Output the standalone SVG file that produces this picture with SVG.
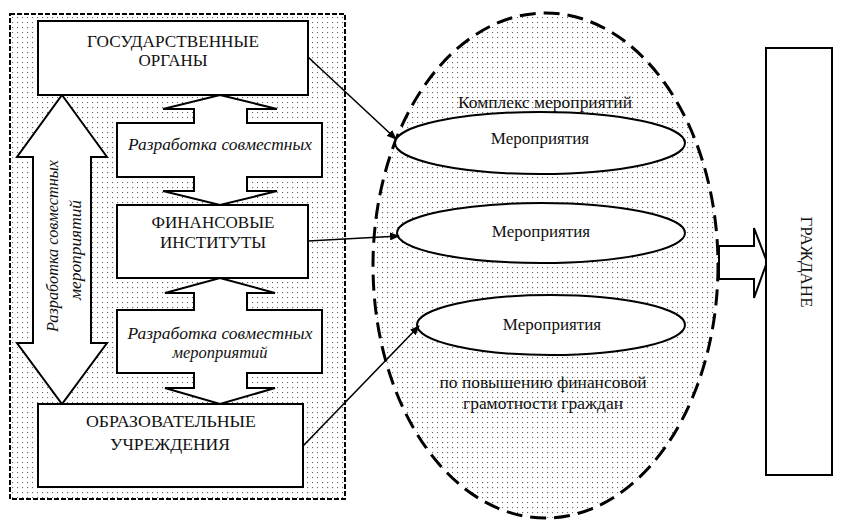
<svg xmlns="http://www.w3.org/2000/svg" width="843" height="525" viewBox="0 0 843 525">
<style>
.box{fill:#fff;stroke:#000;stroke-width:2}
.t{font-size:17px;fill:#111;text-anchor:middle}
.i{font-style:italic}
.con{stroke:#000;stroke-width:1.6;fill:none;marker-end:url(#ah)}
</style>
<defs>
<pattern id="dots" width="5" height="5" patternUnits="userSpaceOnUse">
<rect x="2" y="2" width="1.1" height="1.1" fill="#666"/>
</pattern>
<marker id="ah" viewBox="0 0 10 8" refX="9" refY="4" markerWidth="10" markerHeight="8" markerUnits="userSpaceOnUse" orient="auto">
<path d="M0,0 L10,4 L0,8 Z" fill="#000"/>
</marker>
</defs>
<rect width="843" height="525" fill="#fff"/>

<g id="left-container">
<rect x="10" y="14" width="335" height="485" fill="url(#dots)" stroke="#000" stroke-width="2" stroke-dasharray="5,2"/>
</g>

<g id="left-arrow">
<polygon class="box" points="62,95 107,157 91,157 91,343 107,343 62,404 17,343 33,343 33,157 17,157"/>
<text class="t i" font-family="Liberation Serif" transform="translate(58,246) rotate(-90)" textLength="172" lengthAdjust="spacingAndGlyphs">Разработка совместных</text>
<text class="t i" font-family="Liberation Serif" transform="translate(81,250) rotate(-90)" textLength="100" lengthAdjust="spacingAndGlyphs">мероприятий</text>
</g>

<g id="dev-top">
<polygon class="box" points="220,95 277,109 247,109 247,123 322,123 322,177 247,177 247,191 277,191 220,205 163,191 194,191 194,177 117,177 117,123 194,123 194,109 163,109"/>
<text class="t i" font-family="Liberation Serif" x="220" y="150" textLength="184" lengthAdjust="spacingAndGlyphs">Разработка совместных</text>
</g>

<g id="dev-bottom">
<polygon class="box" points="220,278 275,293 247,293 247,310 322,310 322,373 247,373 247,388 275,388 220,404 165,388 194,388 194,373 117,373 117,310 194,310 194,293 165,293"/>
<text class="t i" font-family="Liberation Serif" x="220" y="339" textLength="185" lengthAdjust="spacingAndGlyphs">Разработка совместных</text>
<text class="t i" font-family="Liberation Serif" x="220" y="358" textLength="95" lengthAdjust="spacingAndGlyphs">мероприятий</text>
</g>

<g id="gos">
<rect class="box" x="38" y="21" width="270" height="74"/>
<text class="t" font-family="Liberation Serif" x="173" y="47" textLength="172" lengthAdjust="spacingAndGlyphs">ГОСУДАРСТВЕННЫЕ</text>
<text class="t" font-family="Liberation Serif" x="173" y="66">ОРГАНЫ</text>
</g>

<g id="fin">
<rect class="box" x="117" y="205" width="191" height="73"/>
<text class="t" font-family="Liberation Serif" x="213" y="228" textLength="123" lengthAdjust="spacingAndGlyphs">ФИНАНСОВЫЕ</text>
<text class="t" font-family="Liberation Serif" x="213" y="248">ИНСТИТУТЫ</text>
</g>

<g id="edu">
<rect class="box" x="38" y="404" width="265" height="83"/>
<text class="t" font-family="Liberation Serif" x="171" y="427" textLength="170" lengthAdjust="spacingAndGlyphs">ОБРАЗОВАТЕЛЬНЫЕ</text>
<text class="t" font-family="Liberation Serif" x="170" y="450" textLength="120" lengthAdjust="spacingAndGlyphs">УЧРЕЖДЕНИЯ</text>
</g>

<g id="complex">
<ellipse cx="545.5" cy="265.5" rx="172.5" ry="252.5" fill="url(#dots)" stroke="#000" stroke-width="3" stroke-dasharray="16,8"/>
<text class="t" font-family="Liberation Serif" x="545" y="108" textLength="174" lengthAdjust="spacingAndGlyphs">Комплекс мероприятий</text>
<text class="t" font-family="Liberation Serif" x="543" y="388" textLength="207" lengthAdjust="spacingAndGlyphs">по повышению финансовой</text>
<text class="t" font-family="Liberation Serif" x="543" y="409" textLength="160" lengthAdjust="spacingAndGlyphs">грамотности граждан</text>
</g>

<g id="event1">
<ellipse cx="540" cy="143" rx="145" ry="31" fill="#fff" stroke="#000" stroke-width="2"/>
<text class="t" font-family="Liberation Serif" x="540" y="144">Мероприятия</text>
</g>
<g id="event2">
<ellipse cx="541" cy="233" rx="144" ry="30" fill="#fff" stroke="#000" stroke-width="2"/>
<text class="t" font-family="Liberation Serif" x="541" y="237">Мероприятия</text>
</g>
<g id="event3">
<ellipse cx="551" cy="325" rx="134" ry="30" fill="#fff" stroke="#000" stroke-width="2"/>
<text class="t" font-family="Liberation Serif" x="552" y="330">Мероприятия</text>
</g>

<g id="connectors">
<line class="con" x1="308" y1="57" x2="396" y2="139"/>
<line class="con" x1="308" y1="241" x2="399" y2="236"/>
<line class="con" x1="303" y1="446" x2="419" y2="326"/>
<polygon points="719,246 754,246 754,228 767,262 754,298 754,279 719,279" fill="#fff" stroke="#000" stroke-width="2"/>
</g>

<g id="citizens">
<rect x="766" y="48" width="66" height="427" fill="#fff" stroke="#000" stroke-width="2"/>
<text class="t" font-family="Liberation Serif" transform="translate(801,262) rotate(90)" textLength="91" lengthAdjust="spacingAndGlyphs">ГРАЖДАНЕ</text>
</g>
</svg>
